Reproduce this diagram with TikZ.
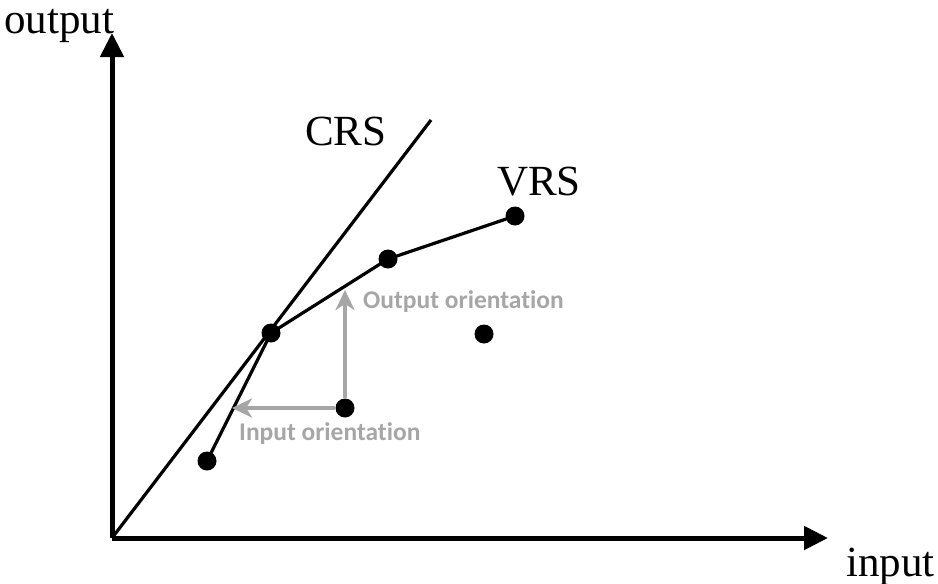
\documentclass[tikz,border=0pt]{standalone}
\usepackage{fontspec}
\setmainfont{Liberation Serif}
\newfontfamily\lblfont{Carlito}[Ligatures=NoCommon]
\usetikzlibrary{arrows.meta}
\definecolor{lgray}{RGB}{166,166,166}
\tikzset{
  axis/.style={line width=5pt,-{Triangle[length=24pt,width=23pt]}},
  frontier/.style={line width=3.2pt},
  dmu/.style={circle,fill=black,inner sep=0pt,minimum size=19pt},
  orient/.style={line width=4.5pt,lgray,-{Stealth[length=20pt,width=19pt,inset=6pt]}},
  bigtxt/.style={font=\fontsize{43}{45}\selectfont,inner sep=0pt,anchor=base west},
  smalltxt/.style={font=\lblfont\bfseries\fontsize{25.5}{27}\selectfont,text=lgray,inner sep=0pt,anchor=base west}
}
\begin{document}
\begin{tikzpicture}[x=1pt,y=-1pt]
\useasboundingbox (0,0) rectangle (938,584);
\coordinate (O) at (112,538);
\coordinate (Ytip) at (112,33);
\coordinate (Xtip) at (828,538);
\coordinate (Cend) at (431,120);
\draw[axis] (O) -- (Ytip);
\draw[axis] (O) -- (Xtip);
\draw[frontier] (O) -- (Cend);
\node[dmu] (a) at (207,461) {};
\node[dmu] (b) at (271,333) {};
\node[dmu] (c) at (388,259) {};
\node[dmu] (d) at (515,216) {};
\node[dmu] (e) at (345,408) {};
\node[dmu] (f) at (484,334) {};
\draw[frontier] (a.center) -- (b.center) -- (c.center) -- (d.center);
\coordinate (Otip) at (345,290);
\coordinate (Itip) at (232,408);
\draw[orient] (e) -- (Otip);
\draw[orient] (e) -- (Itip);
\node[bigtxt] (ylab) at (4,33) {output};
\node[bigtxt] (xlab) at (846,576) {input};
\node[bigtxt] (crs) at (305,145) {CRS};
\node[bigtxt] (vrs) at (497,195) {VRS};
\node[smalltxt] (olab) at (363,308) {Output orientation};
\node[smalltxt] (ilab) at (239,440) {Input orientation};
\end{tikzpicture}
\end{document}
